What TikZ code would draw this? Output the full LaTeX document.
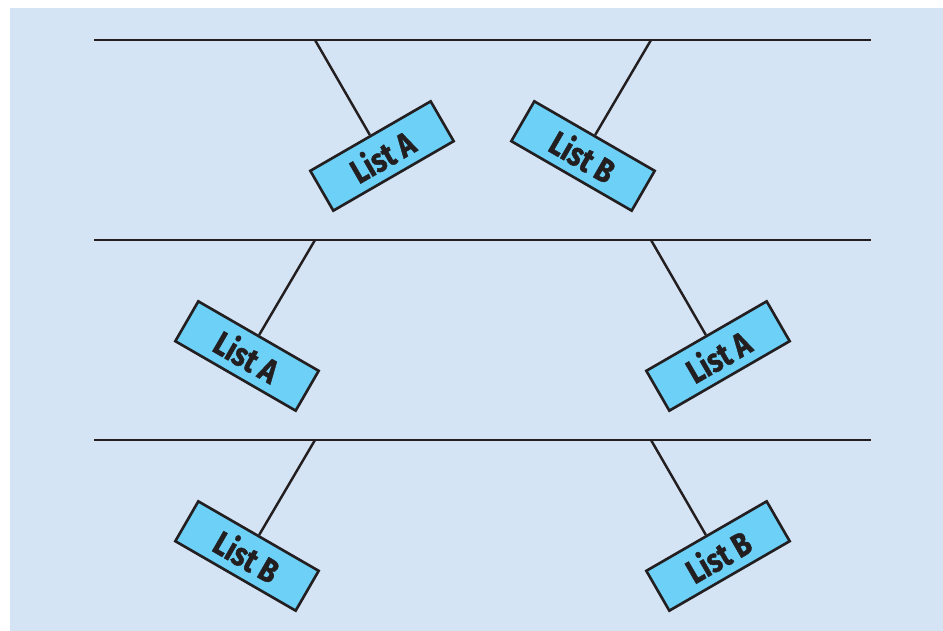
\documentclass[tikz,border=0pt]{standalone}
\usepackage{fontspec}
\usepackage{xcolor}
\newfontfamily\tagfont{Fira Sans}[FakeStretch=0.82, BoldFeatures={FakeBold=1.2}]

\definecolor{paleblue}{HTML}{D5E4F4}
\definecolor{tagblue}{HTML}{6DD0F7}
\definecolor{inkline}{HTML}{231F20}

\begin{document}
\begin{tikzpicture}[x=0.02cm, y=-0.02cm,
    rail/.style={draw=inkline, line width=1.6pt},
    tagline/.style={draw=inkline, line width=1.4pt},
    listtag/.style={draw=inkline, fill=tagblue, line width=1.5pt, inner sep=0pt,
        minimum width=2.78cm, minimum height=0.92cm,
        font=\tagfont\bfseries\fontsize{19}{19}\selectfont, text=inkline}]
    \useasboundingbox (0, 0) rectangle (943, 631);
    \fill[paleblue] (10, 8) rectangle (943, 631);

    % Define the three rails
    \coordinate (r1w) at (94, 40);
    \coordinate (r1e) at (871, 40);
    \coordinate (r2w) at (94, 240);
    \coordinate (r2e) at (871, 240);
    \coordinate (r3w) at (94, 440);
    \coordinate (r3e) at (871, 440);

    \draw[rail] (r1w) -- (r1e);
    \draw[rail] (r2w) -- (r2e);
    \draw[rail] (r3w) -- (r3e);

    % Hanging points on the rails
    \coordinate (h1) at (315, 40);
    \coordinate (h2) at (651, 40);
    \coordinate (h3) at (315, 240);
    \coordinate (h4) at (651, 240);
    \coordinate (h5) at (315, 440);
    \coordinate (h6) at (651, 440);

    % The tags
    \node[listtag, rotate=30] (topA) at (382, 156) {List A};
    \node[listtag, rotate=-30] (topB) at (583, 156) {List B};
    \node[listtag, rotate=-30] (midA) at (247, 356) {List A};
    \node[listtag, rotate=30] (midA2) at (718, 356) {List A};
    \node[listtag, rotate=-30] (lowB) at (247, 556) {List B};
    \node[listtag, rotate=30] (lowB2) at (718, 556) {List B};

    % Draw the strings
    \draw[tagline] (h1) -- (topA.north);
    \draw[tagline] (h2) -- (topB.north);
    \draw[tagline] (h3) -- (midA.north);
    \draw[tagline] (h4) -- (midA2.north);
    \draw[tagline] (h5) -- (lowB.north);
    \draw[tagline] (h6) -- (lowB2.north);
\end{tikzpicture}
\end{document}
